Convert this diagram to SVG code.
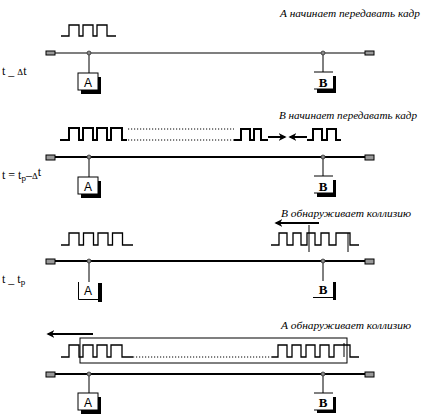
<svg xmlns="http://www.w3.org/2000/svg" width="424" height="415" viewBox="0 0 424 415">
<style>
.bus{stroke:#000;stroke-width:2;fill:none}
.bus1{stroke:#000;stroke-width:1.2;fill:none}
.tap{stroke:#000;stroke-width:1;fill:none}
.term{fill:#999;stroke:#000;stroke-width:1}
.dot{fill:#888;stroke:#333;stroke-width:0.8}
.sig{stroke:#000;stroke-width:1.3;fill:none}
.sigb{stroke:#000;stroke-width:2;fill:none}
.dots{stroke:#000;stroke-width:1;stroke-dasharray:1.2 1.8;fill:none}
.arr{stroke:#000;stroke-width:2;fill:none}
.cap{font-family:"Liberation Serif",serif;font-style:italic;font-size:10.5px;fill:#000}
.lbl{font-family:"Liberation Serif",serif;font-size:12px;fill:#000}
.nA{font-family:"Liberation Sans",sans-serif;font-size:12px;fill:#000}
.nB{font-family:"Liberation Serif",serif;font-weight:bold;font-size:13px;fill:#000}
.box{fill:#fff;stroke:#000;stroke-width:1}
.shadow{fill:#000}
</style>
<defs>
<marker id="ah" viewBox="0 0 10 10" refX="8" refY="5" markerWidth="4" markerHeight="4" orient="auto" markerUnits="strokeWidth">
<path d="M0 0 L10 5 L0 10 L3 5 Z" fill="#000"/>
</marker>
</defs>

<!-- captions -->
<text class="cap" x="280" y="17" textLength="140" lengthAdjust="spacingAndGlyphs">А начинает передавать кадр</text>
<text class="cap" x="279" y="119" textLength="138" lengthAdjust="spacingAndGlyphs">В начинает передавать кадр</text>
<text class="cap" x="281" y="217" textLength="130" lengthAdjust="spacingAndGlyphs">В обнаруживает коллизию</text>
<text class="cap" x="281" y="329" textLength="130" lengthAdjust="spacingAndGlyphs">А обнаруживает коллизию</text>

<!-- time labels -->
<text class="lbl" x="2" y="75">t _ <tspan font-size="9">Δ</tspan>t</text>
<text class="lbl" x="2" y="179">t = t<tspan font-size="9" dy="2">p</tspan><tspan dy="-2">–</tspan><tspan font-size="9">Δ</tspan><tspan dy="-3">t</tspan></text>
<text class="lbl" x="2" y="283">t _ t<tspan font-size="9" dy="2">p</tspan></text>

<!-- signals -->
<g id="signals">
<path class="sig" d="M61 36 H69 V25 H79 V36 H83 V25 H93 V36 H97 V25 H107 V36 H116"/>

<path class="sigb" d="M60 140 H69 V128 H79 V140 H83 V128 H93 V140 H97 V128 H107 V140 H111 V128 H122 V140 H127"/>
<path class="dots" d="M128 129 H234 M128 140 H234"/>
<path class="sigb" d="M234 140 H241 V129 H250 V140 H254 V129 H261 V140 H268"/>
<path class="sigb" d="M307 140 H313 V129 H322 V140 H327 V129 H336 V140 H341"/>
<path class="arr" d="M268 137 H285" marker-end="url(#ah)"/>
<path class="arr" d="M307 137 H290" marker-end="url(#ah)"/>

<path class="sig" d="M61 245 H69 V233 H79 V245 H83.5 V233 H93.5 V245 H98 V233 H108 V245 H112.5 V233 H122.5 V245 H133"/>
<path class="arr" d="M319 223 H276" marker-end="url(#ah)"/>
<path class="sig" d="M271 245 H279 V233 H287 V245 H293 V233 H301 V245 H307 V233 H315 V245 H321 V233 H329 V245 H336 V233 H350 V245 H359"/>
<path class="tap" d="M309 225 V252 M348 233 V252"/>

<path class="arr" d="M93 334 H48" marker-end="url(#ah)"/>
<rect x="80" y="338" width="267" height="25" fill="none" stroke="#000" stroke-width="1"/>
<path class="sig" d="M61 357 H69 V345 H79 V357 H83 V345 H93 V357 H97 V345 H107 V357 H111 V345 H122 V357 H133"/>
<path class="dots" d="M133 357 H272"/>
<path class="sig" d="M272 357 H278 V345 H287 V357 H292 V345 H301 V357 H306 V345 H315 V357 H320 V345 H329 V357 H334 V345 H350 V357 H359"/>
<path class="tap" d="M344 343 V357"/>
</g>

<!-- connectors: buses and taps -->
<g id="connectors">
<line class="bus1" x1="55" y1="53" x2="365" y2="53"/>
<line class="bus" x1="55" y1="157" x2="365" y2="157"/>
<line class="bus" x1="55" y1="261" x2="365" y2="261"/>
<line class="bus" x1="55" y1="374" x2="365" y2="374"/>
<rect class="term" x="46" y="51" width="9" height="4"/>
<rect class="term" x="365" y="51" width="9" height="4"/>
<rect class="term" x="46" y="155" width="9" height="5"/>
<rect class="term" x="365" y="155" width="9" height="5"/>
<rect class="term" x="46" y="259" width="9" height="5"/>
<rect class="term" x="365" y="259" width="9" height="5"/>
<rect class="term" x="46" y="372" width="9" height="5"/>
<rect class="term" x="365" y="372" width="9" height="5"/>
<path class="tap" d="M89 53 V73 M323 53 V72 M89 157 V177 M323 157 V176 M89 261 V282 M323 261 V281 M89 374 V393 M323 374 V393"/>
<circle class="dot" cx="89" cy="53" r="2"/>
<circle class="dot" cx="323" cy="53" r="2"/>
<circle class="dot" cx="89" cy="157" r="2"/>
<circle class="dot" cx="323" cy="157" r="2"/>
<circle class="dot" cx="89" cy="261" r="2"/>
<circle class="dot" cx="323" cy="261" r="2"/>
<circle class="dot" cx="89" cy="374" r="2"/>
<circle class="dot" cx="323" cy="374" r="2"/>
</g>

<!-- nodes -->
<g id="A1">
<rect class="shadow" x="81" y="77" width="20" height="17"/>
<rect class="box" x="78" y="73" width="20" height="17"/>
<text class="nA" x="88" y="87" text-anchor="middle">A</text>
</g>
<g id="B1">
<rect class="shadow" x="317" y="76" width="19" height="17"/>
<rect x="314" y="72" width="19" height="17" fill="#fff"/>
<path class="tap" d="M314 72 H333 M314 89 H333"/>
<text class="nB" x="323" y="87" text-anchor="middle">B</text>
</g>

<g id="A2">
<rect class="shadow" x="81" y="181" width="20" height="17"/>
<rect class="box" x="78" y="177" width="20" height="17"/>
<text class="nA" x="88" y="191" text-anchor="middle">A</text>
</g>
<g id="B2">
<rect class="shadow" x="317" y="180" width="19" height="17"/>
<rect x="314" y="176" width="19" height="17" fill="#fff"/>
<path class="tap" d="M314 176 H333 M314 193 H333"/>
<text class="nB" x="323" y="191" text-anchor="middle">B</text>
</g>

<g id="A3">
<rect class="shadow" x="98" y="283" width="4" height="19"/>
<path class="tap" d="M78.5 282 V299.5 H98"/>
<text class="nA" x="88" y="295" text-anchor="middle">A</text>
</g>
<g id="B3">
<rect class="shadow" x="333" y="282" width="3" height="18"/>
<path class="tap" d="M313 297.5 H334"/>
<text class="nB" x="323" y="294" text-anchor="middle">B</text>
</g>

<g id="A4">
<rect class="shadow" x="81" y="397" width="20" height="17"/>
<rect class="box" x="78" y="393" width="20" height="17"/>
<text class="nA" x="88" y="407" text-anchor="middle">A</text>
</g>
<g id="B4">
<rect class="shadow" x="317" y="397" width="19" height="16"/>
<rect x="314" y="393" width="19" height="17" fill="#fff"/>
<path class="tap" d="M314 393 H333 M314 410 H333"/>
<text class="nB" x="323" y="407" text-anchor="middle">B</text>
</g>
</svg>
